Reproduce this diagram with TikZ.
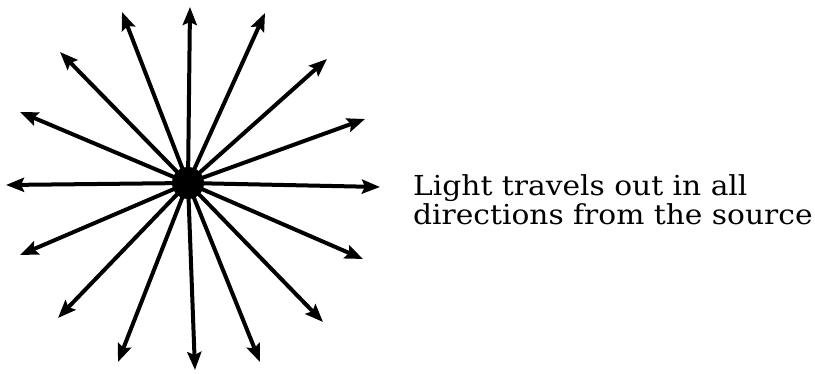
\documentclass[tikz,border=0pt]{standalone}
\usepackage{fontspec}
\newfontfamily\capfont{DejaVu Serif}
\usetikzlibrary{arrows.meta}
\begin{document}
\begin{tikzpicture}[x=1pt,y=1pt,
  ray/.style={line width=4pt,-{Stealth[length=18pt,width=14pt,inset=3pt]}},
  lbl/.style={inner sep=0pt,align=left,font=\capfont\fontsize{27.5}{29}\selectfont}]
\useasboundingbox (0,0) rectangle (815,373);
\node[circle,fill=black,minimum size=32pt,inner sep=0pt] (src) at (188,190) {};
\coordinate (e1) at (190,366);
\coordinate (e2) at (195,3);
\coordinate (e3) at (380,186);
\coordinate (e4) at (6,188);
\coordinate (e5) at (122,361);
\coordinate (e6) at (265,360);
\coordinate (e7) at (60,321);
\coordinate (e8) at (327,314);
\coordinate (e9) at (20,261);
\coordinate (e10) at (365,254);
\coordinate (e11) at (20,118);
\coordinate (e12) at (363,114);
\coordinate (e13) at (58,55);
\coordinate (e14) at (323,51);
\coordinate (e15) at (118,11);
\coordinate (e16) at (260,11);
\foreach \i in {1,...,16}{\draw[ray] (src.center) -- (e\i);}
\node[lbl,anchor=north west] (t) at (413,199) {\scalebox{1.08}[1]{Light travels out in all}\\\scalebox{1.08}[1]{directions from the source}};
\end{tikzpicture}
\end{document}
